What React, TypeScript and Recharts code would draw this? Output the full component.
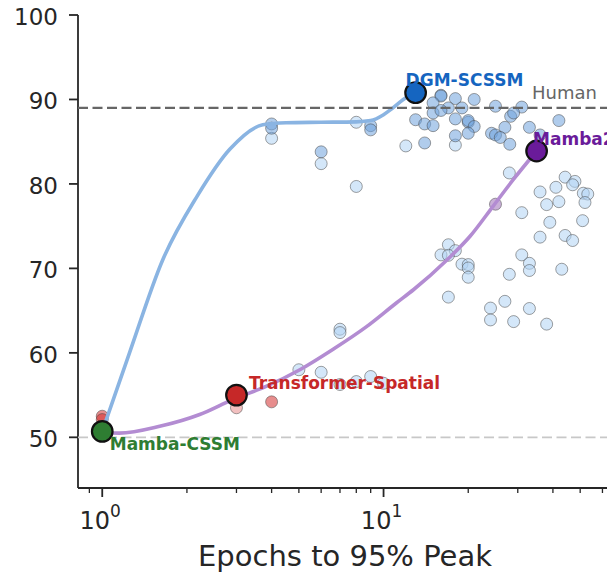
import React from "react";
import {
  ComposedChart,
  Line,
  Scatter,
  XAxis,
  YAxis,
  ReferenceLine,
  ReferenceDot,
} from "recharts";

const FONT = "DejaVu Sans";
const INK = "#262626";

// fitted trend through each model family
const blueFitX = [1.0, 1.25, 1.64, 2.17, 2.84, 3.72, 4.5, 6, 8, 9, 10, 10.8, 12, 13];
const blueFitY = [50.7, 60.0, 71.0, 78.5, 84.1, 87.0, 87.25, 87.3, 87.35, 87.5, 88.2, 89.0, 90.2, 90.8];

const purpleFitX = [1.0, 1.15, 1.6, 2.22, 2.92, 3.84, 5.04, 6.6, 8.7, 11.1, 12.8, 16.8, 20.3, 24.5, 28.9, 35];
const purpleFitY = [50.6, 50.5, 51.3, 52.7, 54.5, 56.05, 58.0, 60.4, 63.1, 65.9, 67.5, 71.0, 73.8, 77.35, 80.5, 83.9];

// high-accuracy runs (darker blue)
const upperX = [4, 4, 6, 9, 9, 16, 16, 18, 21, 15, 17, 19, 15, 16, 13, 14, 15, 18, 20, 20, 21, 20, 18, 14, 25, 31, 28.3, 29, 27, 24.2, 25, 26, 28.1, 33, 36, 42];
const upperY = [87.1, 86.6, 83.8, 86.9, 86.4, 90.5, 90.4, 90.1, 90.0, 89.6, 89.0, 89.0, 88.4, 88.7, 87.6, 87.1, 86.9, 87.7, 87.3, 87.5, 86.8, 86.0, 85.7, 84.85, 89.2, 89.1, 88.0, 88.4, 86.7, 86.0, 85.8, 85.5, 84.7, 86.7, 85.8, 87.5];

// remaining runs (light blue)
const lowerX = [
  4, 6, 8, 8, 12, 18,
  7, 7, 5, 6, 9, 7, 8, 10,
  28, 36, 41, 44.2, 47.9, 47, 51.3, 53.2, 52, 38, 42, 31, 39, 51, 36, 44.2, 47,
  31, 33, 33, 28, 43, 17, 18, 16, 17, 19, 20, 20, 20, 17, 24, 27, 24, 29, 33, 38,
];
const lowerY = [
  85.4, 82.4, 87.3, 79.7, 84.5, 84.6,
  62.8, 62.4, 58.0, 57.7, 57.2, 56.25, 56.6, 56.4,
  81.3, 79.05, 79.6, 80.8, 80.3, 79.9, 78.9, 78.8, 77.8, 77.55, 77.9, 76.6, 75.45, 75.65, 73.7, 73.9, 73.3,
  71.6, 70.6, 69.75, 69.3, 69.9, 72.8, 72.1, 71.6, 71.55, 70.5, 70.45, 70.05, 68.95, 66.6, 65.3, 66.1, 63.9, 63.7, 65.25, 63.4,
];

const redX = [1, 1, 4];
const redY = [52.5, 52.1, 54.2];
const fadedRedX = [3];
const fadedRedY = [53.5];
const purpleDotX = [25];
const purpleDotY = [77.6];

const modelNames = ["Mamba-CSSM", "Transformer-Spatial", "DGM-SCSSM", "Mamba2"];
const modelX = [1, 3, 13, 35];
const modelY = [50.7, 55.0, 90.8, 83.9];

const humanLevel = 89;
const chanceLevel = 50;
const humanLabelX = 33.7;

const xTicks = [0.9, 1, 2, 3, 4, 5, 6, 7, 8, 9, 10, 20, 30, 40, 50, 60, 70, 80, 90];
const yTicks = [50, 60, 70, 80, 90, 100];

const MODEL_STYLE: Record<string, { color: string; dx: number; dy: number }> = {
  "Mamba-CSSM": { color: "#2e7d32", dx: 7.5, dy: 19 },
  "Transformer-Spatial": { color: "#c62828", dx: 12.5, dy: -6.4 },
  "DGM-SCSSM": { color: "#1565c0", dx: -10, dy: -6.6 },
  Mamba2: { color: "#6a1b9a", dx: -3.5, dy: -5.5 },
};

const pts = (xs: number[], ys: number[]) => xs.map((x, i) => ({ x, y: ys[i] }));

const dot = (fill: string, opacity: number) => (props: any) => (
  <circle
    cx={props.cx}
    cy={props.cy}
    r={6}
    fill={fill}
    fillOpacity={opacity}
    stroke="#444"
    strokeOpacity={0.5}
    strokeWidth={1}
  />
);

function ModelMarker(props: any) {
  const { cx, cy, payload } = props;
  const s = MODEL_STYLE[payload.name];
  return (
    <g>
      <circle cx={cx} cy={cy} r={10.3} fill={s.color} stroke="#111" strokeWidth={2.2} />
      <text
        x={cx + s.dx}
        y={cy + s.dy}
        fill={s.color}
        fontSize={17}
        fontWeight="bold"
        fontFamily={FONT}
      >
        {payload.name}
      </text>
    </g>
  );
}

function LogTick({ x, y, payload }: any) {
  const exp = Math.log10(payload.value);
  const major = Math.abs(exp - Math.round(exp)) < 1e-6;
  return (
    <g>
      <line
        x1={x}
        x2={x}
        y1={y}
        y2={y + (major ? 9 : 5)}
        stroke={INK}
        strokeWidth={major ? 1.8 : 1.3}
      />
      {major && (
        <text x={x - 2} y={y + 41} textAnchor="middle" fill={INK} fontSize={24} fontFamily={FONT}>
          10
          <tspan dy={-12} fontSize={17}>
            {Math.round(exp)}
          </tspan>
        </text>
      )}
    </g>
  );
}

function YTick({ x, y, payload }: any) {
  return (
    <text x={x} y={y + 10} textAnchor="end" fill={INK} fontSize={23} fontFamily={FONT}>
      {payload.value}
    </text>
  );
}

export default function App() {
  const models = modelNames.map((name, i) => ({ name, x: modelX[i], y: modelY[i] }));

  return (
    <div
      style={{
        position: "absolute",
        left: 0,
        top: 0,
        width: 607,
        height: 573,
        overflow: "hidden",
        background: "#fff",
        fontFamily: FONT,
      }}
    >
      <ComposedChart width={660} height={573} margin={{ top: 15, right: 0, bottom: 0, left: 0 }}>
        <XAxis
          type="number"
          dataKey="x"
          scale="log"
          domain={[0.82, 96.1]}
          allowDataOverflow
          ticks={xTicks}
          interval={0}
          height={85}
          tickSize={0}
          tickMargin={0}
          tickLine={false}
          tick={(p: any) => <LogTick {...p} />}
          axisLine={{ stroke: INK, strokeWidth: 1.8 }}
          label={{
            value: "Epochs to 95% Peak",
            position: "insideBottom",
            offset: 7,
            dx: -24,
            fontSize: 29,
            fill: INK,
            fontFamily: FONT,
          }}
        />
        <YAxis
          type="number"
          dataKey="y"
          domain={[44, 100]}
          allowDataOverflow
          ticks={yTicks}
          width={78}
          tickSize={9}
          tickMargin={11}
          tick={(p: any) => <YTick {...p} />}
          axisLine={{ stroke: INK, strokeWidth: 1.8 }}
          tickLine={{ stroke: INK, strokeWidth: 1.8 }}
        />

        <Scatter data={pts(lowerX, lowerY)} dataKey="y" shape={dot("#b0d4f4", 0.55)} isAnimationActive={false} zIndex={600} />
        <Scatter data={pts(upperX, upperY)} dataKey="y" shape={dot("#6fa3dc", 0.55)} isAnimationActive={false} zIndex={601} />
        <Scatter data={pts(redX, redY)} dataKey="y" shape={dot("#d32f2f", 0.55)} isAnimationActive={false} zIndex={602} />
        <Scatter data={pts(fadedRedX, fadedRedY)} dataKey="y" shape={dot("#d32f2f", 0.3)} isAnimationActive={false} zIndex={602} />
        <Scatter data={pts(purpleDotX, purpleDotY)} dataKey="y" shape={dot("#9c6fb8", 0.55)} isAnimationActive={false} zIndex={602} />

        <Line
          data={pts(blueFitX, blueFitY)}
          dataKey="y"
          type="monotone"
          stroke="#8ab4e2"
          strokeWidth={3.6}
          dot={false}
          activeDot={false}
          isAnimationActive={false}
          zIndex={610}
        />
        <Line
          data={pts(purpleFitX, purpleFitY)}
          dataKey="y"
          type="monotone"
          stroke="#b38cd2"
          strokeWidth={3.6}
          dot={false}
          activeDot={false}
          isAnimationActive={false}
          zIndex={610}
        />

        <ReferenceLine y={humanLevel} stroke="#666" strokeWidth={2.2} strokeDasharray="10 4.5" zIndex={620} />
        <ReferenceLine y={chanceLevel} stroke="#c8c8c8" strokeWidth={1.8} strokeDasharray="10 4.5" zIndex={620} />
        <ReferenceDot
          x={humanLabelX}
          y={humanLevel}
          r={0}
          zIndex={620}
          shape={(p: any) => (
            <text x={p.cx} y={p.cy - 9} fill="#666" fontSize={18} fontFamily={FONT}>
              Human
            </text>
          )}
        />

        <Scatter data={models} dataKey="y" shape={(p: any) => <ModelMarker {...p} />} isAnimationActive={false} zIndex={700} />
      </ComposedChart>
    </div>
  );
}
